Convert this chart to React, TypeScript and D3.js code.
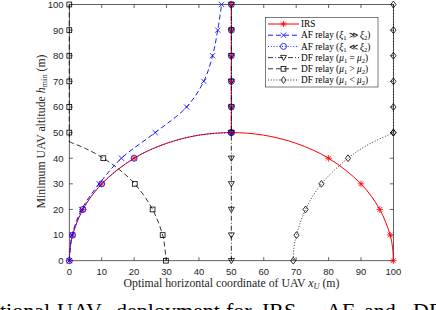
import React from 'react';
import * as d3 from 'd3';

const W = 436;
const H = 310;

// tick values
const xTicks = [0, 10, 20, 30, 40, 50, 60, 70, 80, 90, 100];
const yTicks = [0, 10, 20, 30, 40, 50, 60, 70, 80, 90, 100];

// IRS : arc + vertical part
const irsArcX = [0, 0.25, 1, 4.2, 10, 20, 30, 40, 50, 60, 70, 80, 90, 95.8, 99, 99.75, 100];
const irsArcH = [0, 5, 10, 20, 30, 40, 45.8, 49, 50, 49, 45.8, 40, 30, 20, 10, 5, 0];
const irsTopX = [50, 50, 50, 50, 50, 50];
const irsTopH = [50, 60, 70, 80, 90, 100];

// AF relay (xi1 >> xi2)
const afHighX = [0, 0.9, 3.8, 9.2, 16.1, 26.5, 36.2, 41.5, 44.2, 45.8, 47];
const afHighH = [0, 10, 20, 30, 40, 50, 60, 70, 80, 90, 100];

// AF relay (xi1 << xi2)
const afLowArcX = [0, 0.25, 1, 4.2, 10, 20, 30, 40, 50];
const afLowArcH = [0, 5, 10, 20, 30, 40, 45.8, 49, 50];
const afLowTopX = [50, 50, 50, 50, 50, 50];
const afLowTopH = [50, 60, 70, 80, 90, 100];

// DF relay (mu1 = mu2)
const dfEqX = [50, 50, 50, 50, 50, 50, 50, 50, 50, 50, 50];
const dfEqH = [0, 10, 20, 30, 40, 50, 60, 70, 80, 90, 100];

// DF relay (mu1 > mu2)
const dfGtTopX = [0, 0, 0, 0, 0, 0, 0];
const dfGtTopH = [100, 90, 80, 70, 60, 50, 46.4];
const dfGtArcX = [0, 5, 10.5, 15.5, 20.2, 25.7, 28.8, 29.5, 29.8];
const dfGtArcH = [46.4, 43.8, 40, 35.5, 30, 20, 10, 5, 0];

// DF relay (mu1 < mu2)
const dfLtTopX = [100, 100, 100, 100, 100, 100];
const dfLtTopH = [100, 90, 80, 70, 60, 50];
const dfLtArcX = [100, 91.8, 86, 77.8, 72.9, 70.1, 69.3, 69.1];
const dfLtArcH = [50, 45, 40, 30, 20, 10, 5, 0];

const seriesNames = [
  'IRS',
  'AF relay (ξ1 ≫ ξ2)',
  'AF relay (ξ1 ≪ ξ2)',
  'DF relay (μ1 = μ2)',
  'DF relay (μ1 > μ2)',
  'DF relay (μ1 < μ2)',
];

const captionWords = ['tional', 'UAV', 'deployment', 'for', 'IRS,', 'AF', 'and', 'DF'];
const captionPos = [0, 57, 116, 226, 262, 326, 364, 413];

type Seg = { xs: number[]; hs: number[]; curve: boolean };
type Series = { name: string; color: string; dash: string | null; width: number; marker: string; segs: Seg[] };

const series: Series[] = [
  { name: seriesNames[0], color: '#ff0000', dash: null, width: 1, marker: 'star',
    segs: [{ xs: irsArcX, hs: irsArcH, curve: true }, { xs: irsTopX, hs: irsTopH, curve: false }] },
  { name: seriesNames[1], color: '#0000ff', dash: '5,3', width: 0.9, marker: 'x',
    segs: [{ xs: afHighX, hs: afHighH, curve: true }] },
  { name: seriesNames[2], color: '#0000ff', dash: '1,1.8', width: 0.9, marker: 'o',
    segs: [{ xs: afLowArcX, hs: afLowArcH, curve: true }, { xs: afLowTopX, hs: afLowTopH, curve: false }] },
  { name: seriesNames[3], color: '#000000', dash: '5,2,1,2', width: 0.8, marker: 'v',
    segs: [{ xs: dfEqX, hs: dfEqH, curve: false }] },
  { name: seriesNames[4], color: '#000000', dash: '5,3', width: 0.8, marker: 's',
    segs: [{ xs: dfGtTopX, hs: dfGtTopH, curve: false }, { xs: dfGtArcX, hs: dfGtArcH, curve: true }] },
  { name: seriesNames[5], color: '#000000', dash: '1,1.8', width: 0.8, marker: 'd',
    segs: [{ xs: dfLtTopX, hs: dfLtTopH, curve: false }, { xs: dfLtArcX, hs: dfLtArcH, curve: true }] },
];

function Marker({ type, cx, cy, color }: { type: string; cx: number; cy: number; color: string }) {
  const sw = 0.8;
  if (type === 'star') {
    const s = 3.3, d = 2.4;
    return (
      <path d={`M${cx - s},${cy}H${cx + s}M${cx},${cy - s}V${cy + s}M${cx - d},${cy - d}L${cx + d},${cy + d}M${cx - d},${cy + d}L${cx + d},${cy - d}`}
        stroke={color} strokeWidth={sw} fill="none" />
    );
  }
  if (type === 'x') {
    const d = 2.6;
    return <path d={`M${cx - d},${cy - d}L${cx + d},${cy + d}M${cx - d},${cy + d}L${cx + d},${cy - d}`} stroke={color} strokeWidth={sw} fill="none" />;
  }
  if (type === 'o') return <circle cx={cx} cy={cy} r={3} stroke={color} strokeWidth={sw} fill="none" />;
  if (type === 'v') {
    return <path d={`M${cx - 3},${cy - 2.2}L${cx + 3},${cy - 2.2}L${cx},${cy + 3}Z`} stroke={color} strokeWidth={sw} fill="none" />;
  }
  if (type === 's') return <rect x={cx - 2.4} y={cy - 2.4} width={4.8} height={4.8} stroke={color} strokeWidth={sw} fill="none" />;
  if (type === 'd') {
    return <path d={`M${cx},${cy - 3.4}L${cx + 2.6},${cy}L${cx},${cy + 3.4}L${cx - 2.6},${cy}Z`} stroke={color} strokeWidth={sw} fill="none" />;
  }
  return null;
}

// turn "ξ1" into italic symbol + subscript
function MathLabel({ text, size }: { text: string; size: number }) {
  const parts: React.ReactNode[] = [];
  const re = /([ξμ])(\d)/g;
  let last = 0;
  let m: RegExpExecArray | null;
  let shifted = false;
  let k = 0;
  while ((m = re.exec(text)) !== null) {
    if (m.index > last) {
      parts.push(<tspan key={k++} dy={shifted ? -2 : 0}>{text.slice(last, m.index)}</tspan>);
      shifted = false;
    }
    parts.push(<tspan key={k++} fontStyle="italic" dy={shifted ? -2 : 0}>{m[1]}</tspan>);
    parts.push(<tspan key={k++} fontSize={size * 0.7} dy={2}>{m[2]}</tspan>);
    shifted = true;
    last = m.index + m[0].length;
  }
  if (last < text.length) parts.push(<tspan key={k++} dy={shifted ? -2 : 0}>{text.slice(last)}</tspan>);
  return <>{parts}</>;
}

export default function App() {
  const x = d3.scaleLinear().domain([0, 100]).range([69.3, 393.4]);
  const y = d3.scaleLinear().domain([0, 100]).range([260.7, 4.5]);
  const curved = d3.line<[number, number]>().x(d => x(d[0])).y(d => y(d[1])).curve(d3.curveCatmullRom.alpha(0.5));
  const straight = d3.line<[number, number]>().x(d => x(d[0])).y(d => y(d[1]));

  const [x0, x1] = x.range();
  const [y0, y1] = y.range();
  const axisColor = '#3a3a3a';
  const tickLen = 3.5;
  const serif = '"Liberation Serif", "Times New Roman", serif';
  const sans = '"Liberation Sans", Arial, sans-serif';

  const legX = 265.5, legY = 17.5, legW = 112.5, legH = 69.5;
  const rowY = (i: number) => 24 + i * 11.2;

  return (
    <svg width={W} height={H} style={{ position: 'absolute', left: 0, top: 0, background: '#fff' }}>
      <rect x={0} y={0} width={W} height={H} fill="#fff" />
      {/* axes box */}
      <g stroke={axisColor} strokeWidth={0.8} fill="none">
        <rect x={x0} y={y1} width={x1 - x0} height={y0 - y1} />
        {xTicks.map(t => (
          <g key={'xt' + t}>
            <line x1={x(t)} x2={x(t)} y1={y0} y2={y0 - tickLen} />
            <line x1={x(t)} x2={x(t)} y1={y1} y2={y1 + tickLen} />
          </g>
        ))}
        {yTicks.map(t => (
          <g key={'yt' + t}>
            <line x1={x0} x2={x0 + tickLen} y1={y(t)} y2={y(t)} />
            <line x1={x1} x2={x1 - tickLen} y1={y(t)} y2={y(t)} />
          </g>
        ))}
      </g>
      <g fontFamily={sans} fontSize={9.5} fill="#262626">
        {xTicks.map(t => (
          <text key={'xl' + t} x={x(t)} y={275.3} textAnchor="middle">{t}</text>
        ))}
        {yTicks.map(t => (
          <text key={'yl' + t} x={63.5} y={y(t) + 3.4} textAnchor="end">{t}</text>
        ))}
      </g>

      {/* axis labels */}
      <text x={231.5} y={287} textAnchor="middle" fontFamily={serif} fontSize={11.8} fill="#262626">
        Optimal horizontal coordinate of UAV <tspan fontStyle="italic">x</tspan>
        <tspan fontStyle="italic" fontSize={8.3} dy={2.2}>U</tspan>
        <tspan dy={-2.2}> (m)</tspan>
      </text>
      <text transform="translate(44.5,131.5) rotate(-90)" textAnchor="middle" fontFamily={serif} fontSize={11.8} fill="#262626">
        Minimum UAV altitude <tspan fontStyle="italic">h</tspan>
        <tspan fontSize={8.3} dy={2.2}>min</tspan>
        <tspan dy={-2.2}> (m)</tspan>
      </text>

      {/* series */}
      {series.map((s, i) => (
        <g key={'s' + i}>
          {s.segs.map((seg, j) => {
            const pts = seg.xs.map((v, k) => [v, seg.hs[k]] as [number, number]);
            return (
              <path key={j} d={(seg.curve ? curved : straight)(pts) || ''} fill="none" stroke={s.color}
                strokeWidth={s.width} strokeDasharray={s.dash || undefined} />
            );
          })}
          {s.segs.map((seg, j) =>
            seg.xs.map((v, k) =>
              seg.hs[k] % 10 === 0 ? (
                <Marker key={j + '-' + k} type={s.marker} cx={x(v)} cy={y(seg.hs[k])} color={s.color} />
              ) : null
            )
          )}
        </g>
      ))}

      {/* legend */}
      <rect x={legX} y={legY} width={legW} height={legH} fill="#fff" stroke="#262626" strokeWidth={0.6} />
      {series.map((s, i) => (
        <g key={'lg' + i}>
          <line x1={268} x2={299} y1={rowY(i)} y2={rowY(i)} stroke={s.color} strokeWidth={s.width}
            strokeDasharray={s.dash || undefined} />
          <Marker type={s.marker} cx={283.5} cy={rowY(i)} color={s.color} />
          <text x={301} y={rowY(i) + 3.2} fontFamily={serif} fontSize={9.3} fill="#000">
            <MathLabel text={s.name} size={9.3} />
          </text>
        </g>
      ))}

      {/* caption (cut off at the bottom) */}
      <g fontFamily={serif} fontSize={22} fill="#000">
        {captionWords.map((w, i) => (
          <text key={'c' + i} x={captionPos[i]} y={317.6}>{w}</text>
        ))}
      </g>
    </svg>
  );
}
